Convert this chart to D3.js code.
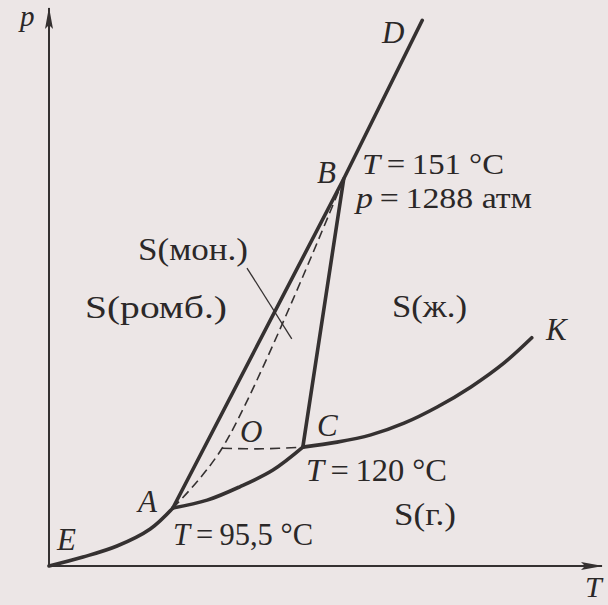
<!DOCTYPE html>
<html>
<head>
<meta charset="utf-8">
<script src="https://cdn.jsdelivr.net/npm/d3@7"></script>
<style>
  html, body { margin: 0; padding: 0; background: #ece6e6; }
  svg { display: block; }
</style>
</head>
<body>
<script>
// Phase diagram of sulfur (schematic p–T diagram), arbitrary units 0..100 on both axes.

// Named points of the diagram: [T, p]
const pointNames = ["E", "A", "O", "C", "B", "D", "K"];
const pointT = [0, 22.4, 31.3, 45.9, 53.3, 67.5, 87.3];
const pointP = [0, 10.4, 21.1, 21.3, 69.4, 97.8, 40.9];

// Sublimation curve of rhombic sulfur, E -> A
const curveEA_T = [0, 6.15, 12.3, 18.3, 22.4];
const curveEA_P = [0, 1.61, 3.58, 6.63, 10.4];

// Sublimation curve of monoclinic sulfur, A -> C
const curveAC_T = [22.4, 28.6, 34.5, 40.5, 45.9];
const curveAC_P = [10.4, 11.8, 14.2, 17.2, 21.3];

// Vaporization curve of liquid sulfur, C -> K
const curveCK_T = [45.9, 52.1, 58.2, 64.2, 70.2, 76.3, 82.3, 87.3];
const curveCK_P = [21.3, 22.2, 23.5, 25.6, 28.5, 32.1, 36.4, 40.9];

// Metastable (dashed) lines
const dashAOB_T = [22.4, 31.3, 53.3];
const dashAOB_P = [10.4, 21.1, 69.4];
const dashOC_T = [31.3, 38.6, 45.9];
const dashOC_P = [21.1, 21.0, 21.3];

// Leader from the S(мон.) label into the monoclinic region
const leaderT = [35.8, 43.9];
const leaderP = [53.4, 40.7];

// Text
const axisLabels = { p: "p", T: "T" };
const phaseLabels = ["S(ромб.)", "S(мон.)", "S(ж.)", "S(г.)"];
const tripleB = ["151 °C", "1288 атм"];
const tripleA = "95,5 °C";
const tripleC = "120 °C";

const W = 608, H = 605;
const svg = d3.select("body").append("svg").attr("width", W).attr("height", H);

const x = d3.scaleLinear().domain([0, 100]).range([49, 602]);
const y = d3.scaleLinear().domain([0, 100]).range([566, 8]);

const ink = "#353131";
const pts = {};
pointNames.forEach((n, i) => pts[n] = [pointT[i], pointP[i]]);

const zipPts = (ts, ps) => ts.map((t, i) => [t, ps[i]]);
const smooth = d3.line().x(d => x(d[0])).y(d => y(d[1])).curve(d3.curveCatmullRom.alpha(0.5));
const straight = d3.line().x(d => x(d[0])).y(d => y(d[1]));

// Axes with arrowheads
const defs = svg.append("defs");
defs.append("marker").attr("id", "arr").attr("viewBox", "0 0 22 8")
  .attr("refX", 21).attr("refY", 4).attr("markerWidth", 22).attr("markerHeight", 8)
  .attr("markerUnits", "userSpaceOnUse").attr("orient", "auto")
  .append("path").attr("d", "M0,0 L22,4 L0,8 L4,4 Z").attr("fill", ink);

svg.append("line").attr("x1", x(0)).attr("y1", y(0)).attr("x2", x(0)).attr("y2", y(100))
  .attr("stroke", ink).attr("stroke-width", 2).attr("marker-end", "url(#arr)");
svg.append("line").attr("x1", x(0)).attr("y1", y(0)).attr("x2", x(100)).attr("y2", y(0))
  .attr("stroke", ink).attr("stroke-width", 2).attr("marker-end", "url(#arr)");

// Dashed metastable lines
svg.append("path").attr("d", smooth(zipPts(dashAOB_T, dashAOB_P)))
  .attr("fill", "none").attr("stroke", ink).attr("stroke-width", 1.6).attr("stroke-dasharray", "9,5");
svg.append("path").attr("d", smooth(zipPts(dashOC_T, dashOC_P)))
  .attr("fill", "none").attr("stroke", ink).attr("stroke-width", 1.6).attr("stroke-dasharray", "10,6");

// Equilibrium curves
const thick = 3.6;
[[curveEA_T, curveEA_P], [curveAC_T, curveAC_P], [curveCK_T, curveCK_P]].forEach(([ts, ps]) => {
  svg.append("path").attr("d", smooth(zipPts(ts, ps)))
    .attr("fill", "none").attr("stroke", ink).attr("stroke-width", thick).attr("stroke-linecap", "round");
});
svg.append("path").attr("d", straight([pts.A, pts.B, pts.D]))
  .attr("fill", "none").attr("stroke", ink).attr("stroke-width", thick).attr("stroke-linecap", "round");
svg.append("path").attr("d", straight([pts.C, pts.B]))
  .attr("fill", "none").attr("stroke", ink).attr("stroke-width", thick).attr("stroke-linecap", "round");

// Leader line
svg.append("path").attr("d", straight(zipPts(leaderT, leaderP)))
  .attr("fill", "none").attr("stroke", ink).attr("stroke-width", 1.3);

// Labels
const serif = "'Liberation Serif', 'Times New Roman', serif";
function label(px, py, parts, size = 32, width = null) {
  const t = svg.append("text").attr("x", px).attr("y", py)
    .attr("font-size", size).attr("fill", "#2b2828")
    .style("font-family", serif);
  parts.forEach(([s, it]) => t.append("tspan").text(s).attr("font-style", it ? "italic" : "normal"));
  if (width) t.attr("textLength", width).attr("lengthAdjust", "spacingAndGlyphs");
  return t;
}

label(20, 26, [[axisLabels.p, true]], 29);
label(585, 597, [[axisLabels.T, true]], 30);

const letterPos = { E: [57, 550], A: [138, 512], O: [240, 442], C: [317, 436], B: [317, 183], D: [382, 43], K: [546, 340] };
pointNames.forEach(n => label(letterPos[n][0], letterPos[n][1], [[n, true]], 31));

label(85, 318, [[phaseLabels[0], false]], 32, 142);
label(138, 260, [[phaseLabels[1], false]], 32, 110);
label(392, 317, [[phaseLabels[2], false]], 32, 75);
label(394, 525, [[phaseLabels[3], false]], 32, 62);

label(362, 174, [["T", true], ["\u2009=\u2009" + tripleB[0], false]], 30, 142);
label(356, 208, [["p", true], ["\u2009=\u2009" + tripleB[1], false]], 30, 176);
label(306, 481, [["T", true], ["\u2009=\u2009" + tripleC, false]], 32, 141);
label(173, 545, [["T", true], ["\u2009=\u2009" + tripleA, false]], 32, 140);
</script>
</body>
</html>
